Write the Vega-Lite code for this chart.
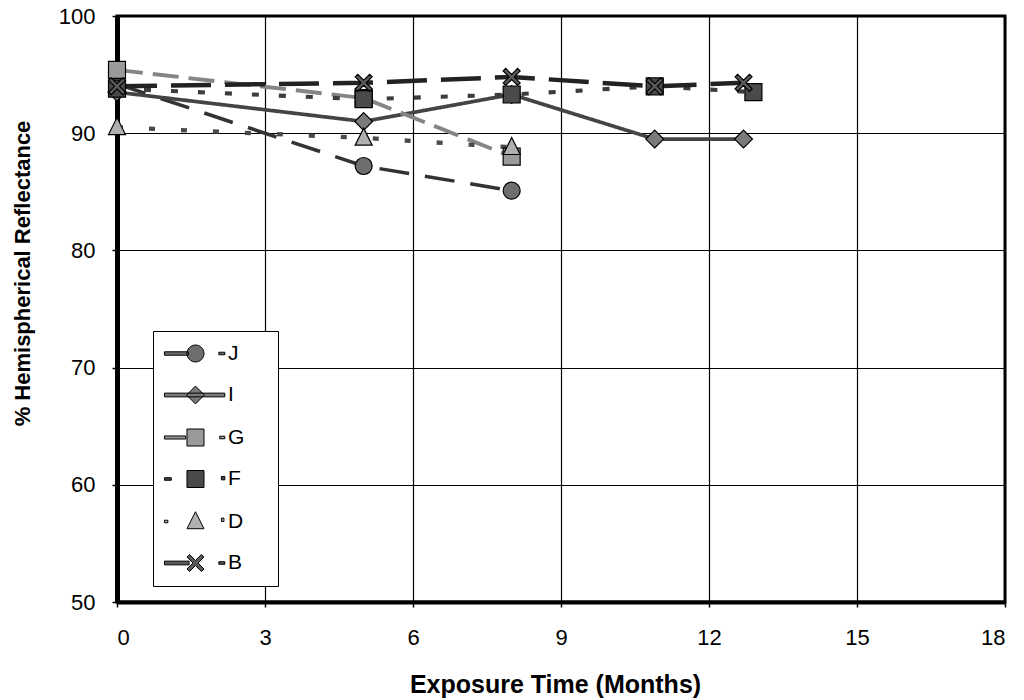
{
  "$schema": "https://vega.github.io/schema/vega-lite/v6.json",
  "autosize": "none",
  "width": 888,
  "height": 586,
  "padding": {"left": 117, "top": 16, "right": 19, "bottom": 98},
  "background": "white",
  "config": {
    "font": "Liberation Sans",
    "view": {"stroke": "black", "strokeWidth": 3}
  },
  "data": {
    "values": [
      {"series": "J", "x": 0, "y": 94.2},
      {"series": "J", "x": 5, "y": 87.2},
      {"series": "J", "x": 8, "y": 85.1},
      {"series": "I", "x": 0, "y": 93.5},
      {"series": "I", "x": 5, "y": 91.0},
      {"series": "I", "x": 8, "y": 93.3},
      {"series": "I", "x": 10.9, "y": 89.5},
      {"series": "I", "x": 12.7, "y": 89.5},
      {"series": "G", "x": 0, "y": 95.4},
      {"series": "G", "x": 5, "y": 93.0},
      {"series": "G", "x": 8, "y": 88.0},
      {"series": "F", "x": 0, "y": 93.8},
      {"series": "F", "x": 5, "y": 92.9},
      {"series": "F", "x": 8, "y": 93.3},
      {"series": "F", "x": 10.9, "y": 94.0},
      {"series": "F", "x": 12.9, "y": 93.5},
      {"series": "D", "x": 0, "y": 90.5},
      {"series": "D", "x": 5, "y": 89.6},
      {"series": "D", "x": 8, "y": 88.8},
      {"series": "B", "x": 0, "y": 94.0},
      {"series": "B", "x": 5, "y": 94.3},
      {"series": "B", "x": 8, "y": 94.8},
      {"series": "B", "x": 10.9, "y": 94.0},
      {"series": "B", "x": 12.7, "y": 94.3}
    ]
  },
  "encoding": {
    "x": {
      "field": "x", "type": "quantitative",
      "scale": {"domain": [0, 18], "nice": false, "zero": false},
      "axis": {
        "values": [0, 3, 6, 9, 12, 15, 18],
        "grid": true, "gridColor": "black", "gridWidth": 1.2, "gridOpacity": 1,
        "domainColor": "black", "domainWidth": 4,
        "tickColor": "black", "tickSize": 5, "tickWidth": 1.5,
        "labelFontSize": 22, "labelColor": "black", "labelPadding": 20, "labelFont": "Liberation Sans",
        "title": "Exposure Time (Months)",
        "titleFontSize": 25, "titleFontWeight": "bold", "titleColor": "black", "titleFont": "Liberation Sans",
        "titleX": 438, "titleY": 82, "titleBaseline": "middle", "titleAlign": "center"
      }
    },
    "y": {
      "field": "y", "type": "quantitative",
      "scale": {"domain": [50, 100], "nice": false, "zero": false},
      "axis": {
        "values": [50, 60, 70, 80, 90, 100],
        "grid": true, "gridColor": "black", "gridWidth": 1.2, "gridOpacity": 1,
        "domainColor": "black", "domainWidth": 5,
        "tickColor": "black", "tickSize": 5, "tickWidth": 1.5,
        "labelFontSize": 22, "labelColor": "black", "labelPadding": 17, "labelFont": "Liberation Sans",
        "title": "% Hemispherical Reflectance",
        "titleFontSize": 22, "titleFontWeight": "bold", "titleColor": "black", "titleFont": "Liberation Sans",
        "titleAngle": -90, "titleX": -95, "titleY": 257, "titleBaseline": "middle", "titleAlign": "center"
      }
    }
  },
  "layer": [
    {
      "mark": {"type": "line", "strokeCap": "butt"},
      "encoding": {
        "stroke": {
          "field": "series", "type": "nominal", "legend": null,
          "scale": {"domain": ["J", "I", "G", "F", "D", "B"], "range": ["#333333", "#444444", "#858585", "#3c3c3c", "#4a4a4a", "#222222"]}
        },
        "strokeWidth": {
          "field": "series", "type": "nominal", "legend": null,
          "scale": {"domain": ["J", "I", "G", "F", "D", "B"], "range": [3.5, 4.5, 4, 3.5, 3, 4.5]}
        },
        "strokeDash": {
          "field": "series", "type": "nominal", "legend": null,
          "scale": {"domain": ["J", "I", "G", "F", "D", "B"], "range": [[30, 16], [1, 0], [26, 10], [7, 20], [6, 26], [40, 14]]}
        }
      }
    },
    {
      "mark": {"type": "point", "filled": true, "stroke": "black", "strokeWidth": 1.2, "opacity": 1, "size": 289},
      "encoding": {
        "shape": {
          "field": "series", "type": "nominal", "legend": null,
          "scale": {"domain": ["J", "I", "G", "F", "D", "B"], "range": [
            "M1,0A1,1 0 1,1 -1,0A1,1 0 1,1 1,0Z",
            "M0,-1.05L1.05,0L0,1.05L-1.05,0Z",
            "M-1,-1H1V1H-1Z",
            "M-1,-1H1V1H-1Z",
            "M0,-1.15L1,0.85H-1Z",
            "M-1,-0.7L-0.7,-1L0,-0.3L0.7,-1L1,-0.7L0.3,0L1,0.7L0.7,1L0,0.3L-0.7,1L-1,0.7L-0.3,0Z"
          ]}
        },
        "fill": {
          "field": "series", "type": "nominal", "legend": null,
          "scale": {"domain": ["J", "I", "G", "F", "D", "B"], "range": ["#6e6e6e", "#7a7a7a", "#9a9a9a", "#4a4a4a", "#b0b0b0", "#5a5a5a"]}
        }
      }
    },
    {
      "transform": [{"filter": "datum.series == 'none'"}],
      "mark": {"type": "point", "filled": true, "stroke": "black", "strokeWidth": 1},
      "encoding": {
        "shape": {
          "field": "series", "type": "nominal",
          "scale": {"domain": ["J", "I", "G", "F", "D", "B"], "range": [
            "M-1.3,-0.2H1.5V0.2H-1.3Z M3.35,0A1,1 0 1,1 1.35,0A1,1 0 1,1 3.35,0Z M5.1,-0.15H5.8V0.15H5.1Z M10.35,0L10.35,0",
            "M-1.3,-0.22H5.8V0.22H-1.3Z M2.35,-1.05L3.4,0L2.35,1.05L1.3,0Z M10.35,0L10.35,0",
            "M-1.3,-0.18H1.2V0.18H-1.3Z M1.35,-1H3.35V1H1.35Z M5.2,-0.15H5.8V0.15H5.2Z M10.35,0L10.35,0",
            "M-1.3,-0.15H-0.5V0.15H-1.3Z M1.35,-1H3.35V1H1.35Z M5.4,-0.3H5.8V0.1H5.4Z M10.35,0L10.35,0",
            "M-1.3,-0.15H-0.9V0.15H-1.3Z M2.35,-1.15L3.35,0.85H1.35Z M5.4,-0.4H5.7V0H5.4Z M10.35,0L10.35,0",
            "M-1.3,-0.22H1.6V0.22H-1.3Z M1.35,-0.7L1.65,-1L2.35,-0.3L3.05,-1L3.35,-0.7L2.65,0L3.35,0.7L3.05,1L2.35,0.3L1.65,1L1.35,0.7L2.05,0Z M5.1,-0.15H5.8V0.15H5.1Z M10.35,0L10.35,0"
          ]},
          "legend": {
            "title": null, "orient": "none", "legendX": 36, "legendY": 315,
            "padding": 12, "rowPadding": 19.5, "labelOffset": 42,
            "labelFontSize": 21, "labelColor": "black", "labelFont": "Liberation Sans",
            "symbolSize": 289, "symbolStrokeWidth": 1, "symbolStrokeColor": "black", "symbolOpacity": 1,
            "strokeColor": "black", "fillColor": "white",
            "encode": {"symbols": {"update": {"stroke": {"value": "black"}, "opacity": {"value": 1}, "strokeWidth": {"value": 1}}}}
          }
        },
        "fill": {
          "field": "series", "type": "nominal",
          "scale": {"domain": ["J", "I", "G", "F", "D", "B"], "range": ["#6e6e6e", "#7a7a7a", "#9a9a9a", "#4a4a4a", "#b0b0b0", "#5a5a5a"]},
          "legend": {
            "title": null, "orient": "none", "legendX": 36, "legendY": 315,
            "padding": 12, "rowPadding": 19.5, "labelOffset": 42,
            "labelFontSize": 21, "labelColor": "black", "labelFont": "Liberation Sans",
            "symbolSize": 289, "symbolStrokeWidth": 1, "symbolStrokeColor": "black", "symbolOpacity": 1,
            "strokeColor": "black", "fillColor": "white",
            "encode": {"symbols": {"update": {"stroke": {"value": "black"}, "opacity": {"value": 1}, "strokeWidth": {"value": 1}}}}
          }
        }
      }
    }
  ],
  "resolve": {"scale": {"shape": "independent", "fill": "independent"}}
}
